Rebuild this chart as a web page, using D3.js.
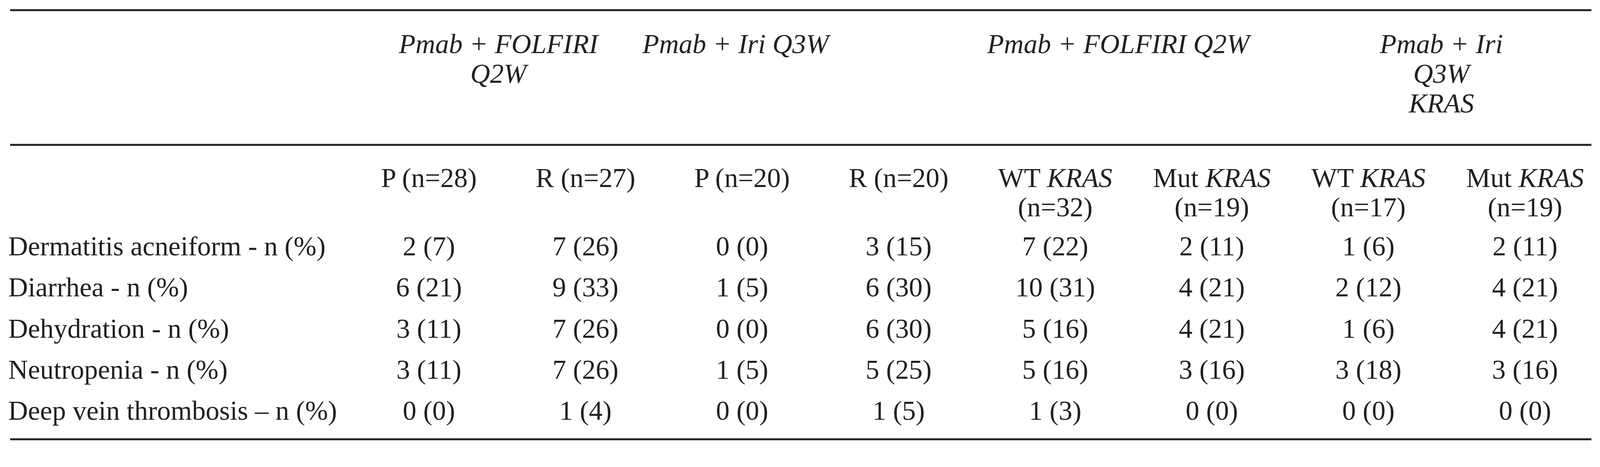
<!DOCTYPE html>
<html><head><meta charset="utf-8">
<script src="https://cdn.jsdelivr.net/npm/d3@7"></script>
<style>body{margin:0;background:#fff}</style>
</head><body>
<div id="chart"></div>
<script>
const groups = [
  ["Pmab + FOLFIRI", "Q2W"],
  ["Pmab + Iri Q3W"],
  ["Pmab + FOLFIRI Q2W"],
  ["Pmab + Iri", "Q3W", "KRAS"]
]
const subheads = [
  [["P (n=28)"]], [["R (n=27)"]], [["P (n=20)"]], [["R (n=20)"]],
  [["WT ", "KRAS"], ["(n=32)"]], [["Mut ", "KRAS"], ["(n=19)"]],
  [["WT  ", "KRAS"], ["(n=17)"]], [["Mut ", "KRAS"], ["(n=19)"]]
]
const rowLabels = ["Dermatitis acneiform - n (%)", "Diarrhea - n (%)", "Dehydration - n (%)",
  "Neutropenia - n (%)", "Deep vein thrombosis \u2013 n (%)"]
const cells = [
  ["2 (7)", "7 (26)", "0 (0)", "3 (15)", "7 (22)", "2 (11)", "1 (6)", "2 (11)"],
  ["6 (21)", "9 (33)", "1 (5)", "6 (30)", "10 (31)", "4 (21)", "2 (12)", "4 (21)"],
  ["3 (11)", "7 (26)", "0 (0)", "6 (30)", "5 (16)", "4 (21)", "1 (6)", "4 (21)"],
  ["3 (11)", "7 (26)", "1 (5)", "5 (25)", "5 (16)", "3 (16)", "3 (18)", "3 (16)"],
  ["0 (0)", "1 (4)", "0 (0)", "1 (5)", "1 (3)", "0 (0)", "0 (0)", "0 (0)"]
]

const width = 4231, height = 1196, FS = 70
const svg = d3.select("#chart").append("svg").attr("width", width).attr("height", height)
  .style("font-family", "'Liberation Serif', 'Times New Roman', serif").style("font-size", FS + "px").attr("fill", "#231f20")

const colX = d3.scalePoint().domain(d3.range(8)).range([1098, 3904])
const groupX = [1276, 1883, 2863, 3690]
const rowY = d3.scalePoint().domain(d3.range(rowLabels.length)).range([654, 1075])

// rules
;[26, 371, 1125].forEach(y => {
  svg.append("line").attr("x1", 26).attr("x2", 4074).attr("y1", y).attr("y2", y)
    .attr("stroke", "#231f20").attr("stroke-width", 5)
})

groups.forEach((g, i) => {
  g.forEach((t, j) => {
    svg.append("text").attr("x", groupX[i]).attr("y", 136 + j * 76)
      .attr("text-anchor", "middle").style("font-style", "italic").text(t)
  })
})

subheads.forEach((lines, i) => {
  lines.forEach((parts, j) => {
    const t = svg.append("text").attr("x", colX(i)).attr("y", 479 + j * 75).attr("text-anchor", "middle")
    parts.forEach((p, k) => {
      t.append("tspan").style("font-style", k == 1 ? "italic" : "normal").text(p)
    })
  })
})

rowLabels.forEach((r, i) => {
  svg.append("text").attr("x", 21).attr("y", rowY(i)).text(r)
  cells[i].forEach((c, j) => {
    svg.append("text").attr("x", colX(j)).attr("y", rowY(i)).attr("text-anchor", "middle").text(c)
  })
})
</script>
</body></html>
